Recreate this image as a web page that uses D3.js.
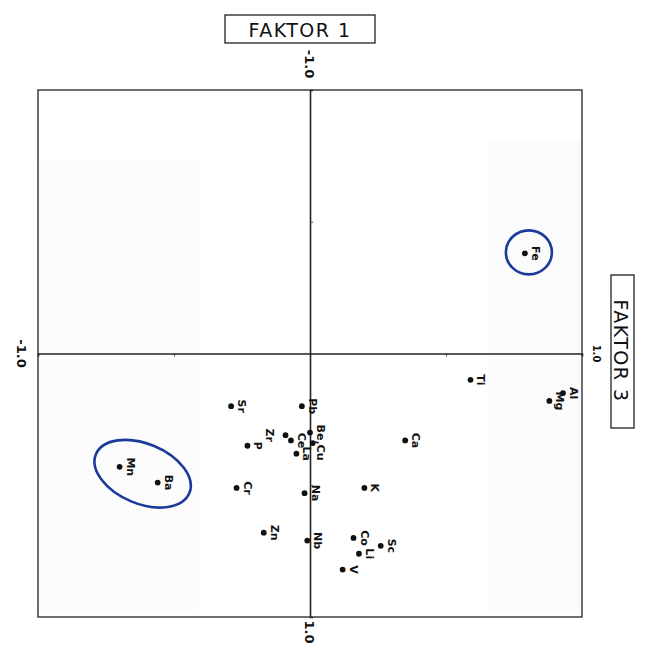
<!DOCTYPE html>
<html>
<head>
<meta charset="utf-8">
<script src="https://cdn.jsdelivr.net/npm/d3@7"></script>
<style>
  html, body { margin: 0; padding: 0; background: #fff; }
  svg { display: block; }
  text { font-family: "DejaVu Sans", sans-serif; fill: #111; }
</style>
</head>
<body>
<svg id="chart" width="652" height="660"></svg>
<script>
// ---- data (Faktor 3 on horizontal axis, Faktor 1 on vertical axis, downwards) ----
const elements = ["Fe","Ti","Al","Mg","Sr","Pb","Be","Cu","Zr","Ce","La","P","Mn","Ba","Cr","Na","Zn","Nb","Ca","K","Co","Sc","Li","V"];
const labels   = ["Fe","Ti","Al","Mg","Sr","Pb","Be,Cu","","Zr","Ce","La","P","Mn","Ba","Cr","Na","Zn","Nb","Ca","K","Co","Sc","Li","V"];
const faktor3  = [0.79, 0.59, 0.93, 0.88,-0.29,-0.03, 0.00, 0.01,-0.09,-0.07,-0.05,-0.23,-0.70,-0.56,-0.27,-0.02,-0.17,-0.01, 0.35, 0.20, 0.16, 0.26, 0.18, 0.12];
const faktor1  = [-0.38, 0.10, 0.15, 0.18, 0.20, 0.20, 0.30, 0.34, 0.31, 0.33, 0.38, 0.35, 0.43, 0.49, 0.51, 0.53, 0.68, 0.71, 0.33, 0.51, 0.70, 0.73, 0.76, 0.82];
const circledGroups = [["Fe"], ["Mn","Ba"]];
const axisTickLabels = ["-1.0", "1.0"];
const axisTitles = ["FAKTOR 1", "FAKTOR 3"];

const svg = d3.select("#chart");
const x = d3.scaleLinear().domain([-1, 1]).range([38, 582]);
const y = d3.scaleLinear().domain([-1, 1]).range([90, 617]);

// very faint scan patches
svg.append("rect").attr("x", 488).attr("y", 140).attr("width", 94).attr("height", 470).attr("fill", "#fbfbfb");
svg.append("rect").attr("x", 39).attr("y", 160).attr("width", 160).attr("height", 450).attr("fill", "#fcfcfc");

// frame
svg.append("rect").attr("x", x(-1)).attr("y", y(-1)).attr("width", x(1) - x(-1)).attr("height", y(1) - y(-1))
  .attr("fill", "none").attr("stroke", "#222").attr("stroke-width", 1.3);

// centre axes via d3 axes
const gx = svg.append("g").attr("transform", `translate(0,${y(0)})`)
  .call(d3.axisBottom(x).tickValues([-0.5, 0.5]).tickSize(3).tickFormat(""));
const gy = svg.append("g").attr("transform", `translate(${x(0)},0)`)
  .call(d3.axisRight(y).tickValues([-0.5, 0.5]).tickSize(3).tickFormat(""));
[gx, gy].forEach(g => {
  g.select(".domain").attr("stroke", "#222").attr("stroke-width", 1.6);
  g.selectAll(".tick line").attr("stroke", "#444").attr("stroke-width", 1);
});

// axis end labels (rotated)
function rotLabel(px, py, t, size) {
  svg.append("text").attr("transform", `translate(${px},${py}) rotate(90)`)
    .attr("text-anchor", "middle").attr("font-size", size).attr("font-weight", "bold").text(t);
}
rotLabel(x(0) - 5, y(-1) - 26, axisTickLabels[0], 13);
rotLabel(x(-1) - 21, y(0), axisTickLabels[0], 13);
rotLabel(x(0) - 5, y(1) + 15, axisTickLabels[1], 13);
rotLabel(x(1) + 11, y(0), axisTickLabels[1], 10);

// axis titles in boxes
svg.append("rect").attr("x", 225).attr("y", 15).attr("width", 150).attr("height", 28)
  .attr("fill", "#fff").attr("stroke", "#222").attr("stroke-width", 1.3);
svg.append("text").attr("x", 300).attr("y", 37).attr("text-anchor", "middle")
  .attr("font-size", 19).attr("letter-spacing", 1.5).text(axisTitles[0]);
svg.append("rect").attr("x", 611).attr("y", 275).attr("width", 23).attr("height", 153)
  .attr("fill", "#fff").attr("stroke", "#222").attr("stroke-width", 1.3);
svg.append("text").attr("transform", `translate(614,351) rotate(90)`).attr("text-anchor", "middle")
  .attr("font-size", 19).attr("letter-spacing", 1.5).text(axisTitles[1]);

// points
const pts = elements.map((e, i) => ({ e, lab: labels[i], f3: faktor3[i], f1: faktor1[i] }));
const leftLabel = new Set(["Zr"]);
svg.append("g").selectAll("circle").data(pts).join("circle")
  .attr("cx", d => x(d.f3)).attr("cy", d => y(d.f1)).attr("r", 2.9).attr("fill", "#111");
svg.append("g").selectAll("text").data(pts).join("text")
  .attr("transform", d => {
    const dx = leftLabel.has(d.e) ? -20 : 7;
    const dy = d.lab.length > 3 ? 10 : 0;
    return `translate(${x(d.f3) + dx},${y(d.f1) + dy}) rotate(90)`;
  })
  .attr("text-anchor", "middle").attr("font-size", 11).attr("font-weight", "bold")
  .text(d => d.lab);

// ellipses around groups
circledGroups.forEach(g => {
  const gp = pts.filter(p => g.includes(p.e));
  const cx = d3.mean(gp, p => x(p.f3)) + 4;
  const cy = d3.mean(gp, p => y(p.f1)) - 1;
  let rx, ry, ang;
  if (gp.length === 1) { rx = 23; ry = 22; ang = 0; }
  else {
    const dx = x(gp[1].f3) - x(gp[0].f3), dy = y(gp[1].f1) - y(gp[0].f1);
    ang = Math.atan2(dy, dx) * 180 / Math.PI;
    rx = Math.hypot(dx, dy) / 2 + 30; ry = 30;
  }
  svg.append("ellipse").attr("transform", `translate(${cx},${cy}) rotate(${ang})`)
    .attr("rx", rx).attr("ry", ry).attr("fill", "none")
    .attr("stroke", "#1c3a9c").attr("stroke-width", 2.6);
});
</script>
</body>
</html>
